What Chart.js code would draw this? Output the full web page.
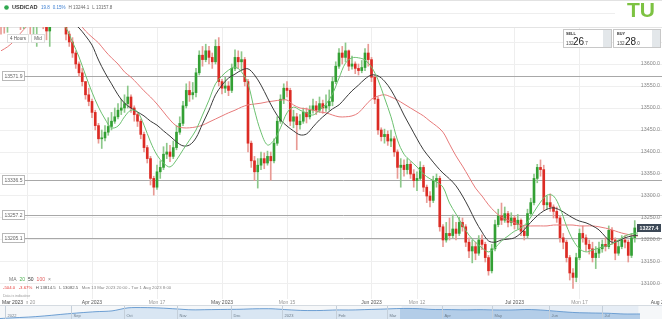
<!DOCTYPE html>
<html>
<head>
<meta charset="utf-8">
<script src="https://cdn.jsdelivr.net/npm/chart.js@4.4.0/dist/chart.umd.min.js"></script>
<style>
  html, body { margin: 0; padding: 0; background: #fff; }
  #wrap { position: relative; width: 662px; height: 319px; overflow: hidden; }
  #main { position: absolute; left: 0; top: 0; }
  #nav { position: absolute; left: 0; top: 305px; }
</style>
</head>
<body>
<div id="wrap">
  <canvas id="main" width="662" height="319"></canvas>
  <canvas id="nav" width="662" height="14"></canvas>
</div>
<script>
const FONT = '"Liberation Sans", Arial, sans-serif';

// 12h candle slots, counted in trading days from Mon 13 Mar 2023
const candleStart = 1;
const candleStep = 0.5;
const opens = [
  13731,13705,13690,13712,13730,13745,13720,13695,13710,13700,
  13685,13690,13700,13720,13705,13675,13690,13712,13740,13760,
  13725,13668,13650,13625,13600,13580,13560,13530,13515,13490,
  13460,13430,13432,13445,13458,13470,13480,13495,13500,13510,
  13525,13500,13485,13470,13440,13410,13385,13340,13320,13355,
  13365,13395,13400,13390,13410,13445,13465,13505,13540,13530,
  13535,13580,13620,13610,13630,13615,13605,13640,13560,13545,
  13550,13540,13590,13615,13605,13610,13560,13420,13380,13355,
  13370,13385,13375,13390,13380,13420,13470,13520,13545,13540,
  13470,13480,13462,13470,13490,13480,13495,13505,13495,13510,
  13500,13505,13515,13560,13595,13625,13615,13630,13595,13600,
  13590,13585,13592,13625,13610,13570,13520,13450,13435,13440,
  13425,13430,13400,13365,13370,13360,13372,13350,13335,13340,
  13365,13320,13300,13290,13335,13340,13230,13200,13215,13210,
  13225,13215,13240,13230,13195,13175,13185,13170,13200,13190,
  13160,13130,13180,13235,13255,13245,13260,13240,13250,13235,
  13245,13220,13210,13260,13285,13340,13365,13360,13280,13285,
  13275,13265,13250,13205,13195,13160,13125,13115,13160,13215,
  13205,13190,13180,13160,13170,13180,13190,13185,13222,13200,
  13170,13185,13200,13195,13165,13205
];
const highs = [
  13740,13725,13735,13760,13790,13760,13730,13740,13725,13712,
  13718,13720,13745,13740,13715,13720,13735,13780,13814.5,13770,
  13730,13675,13660,13630,13605,13590,13560,13545,13520,13495,
  13465,13450,13460,13478,13490,13500,13510,13520,13530,13550,
  13530,13505,13490,13475,13445,13415,13390,13345,13370,13380,
  13412,13420,13415,13425,13460,13480,13515,13555,13560,13558,
  13590,13630,13640,13645,13640,13625,13655,13660,13565,13570,
  13560,13600,13632,13630,13628,13615,13565,13425,13390,13385,
  13400,13398,13402,13400,13430,13480,13530,13555,13560,13545,
  13495,13488,13485,13500,13500,13505,13520,13515,13525,13518,
  13530,13541,13570,13605,13635,13640,13648,13632,13618,13605,
  13600,13608,13635,13645,13615,13575,13525,13455,13452,13448,
  13450,13435,13405,13385,13382,13385,13378,13360,13355,13378,
  13370,13325,13310,13345,13350,13345,13235,13240,13250,13257,
  13240,13252,13250,13235,13205,13200,13195,13210,13212,13195,
  13165,13190,13245,13270,13284,13275,13265,13262,13255,13258,
  13248,13230,13270,13295,13350,13372,13382,13370,13300,13305,
  13280,13275,13255,13215,13200,13165,13135,13170,13225,13232,
  13212,13200,13195,13185,13195,13200,13205,13232,13228,13205,
  13200,13210,13210,13200,13215,13244.1
];
const lows = [
  13668,13670,13672,13705,13720,13700,13678,13680,13688,13668,
  13660,13640,13690,13680,13655,13640,13688,13705,13730,13690,
  13655,13640,13615,13590,13572,13550,13520,13505,13478,13450,
  13420,13408,13425,13438,13450,13465,13475,13485,13490,13500,
  13490,13470,13458,13430,13400,13375,13325,13302,13315,13340,
  13360,13385,13378,13385,13405,13440,13460,13500,13515,13520,
  13525,13575,13595,13605,13600,13590,13600,13550,13532,13535,
  13528,13535,13585,13590,13585,13550,13400,13365,13335,13318,
  13360,13362,13370,13336,13375,13415,13465,13510,13525,13460,
  13455,13405,13452,13465,13466,13475,13488,13485,13490,13488,
  13492,13495,13505,13555,13590,13600,13605,13585,13588,13578,
  13575,13580,13585,13595,13560,13510,13440,13425,13420,13415,
  13412,13390,13340,13320,13345,13350,13340,13320,13312,13335,
  13310,13285,13275,13285,13320,13220,13185,13195,13200,13205,
  13200,13210,13220,13185,13160,13148,13155,13165,13178,13150,
  13120,13125,13175,13230,13235,13240,13230,13232,13225,13225,
  13210,13200,13205,13255,13280,13330,13345,13268,13270,13265,
  13250,13240,13195,13180,13150,13109,13090,13105,13155,13195,
  13175,13168,13150,13135,13160,13172,13175,13180,13190,13155,
  13165,13180,13182,13150,13160,13195
];
const closes = [
  13705,13690,13712,13730,13745,13720,13695,13710,13700,13685,
  13690,13700,13720,13705,13675,13690,13712,13740,13760,13725,
  13668,13650,13625,13600,13580,13560,13530,13515,13490,13460,
  13430,13432,13445,13458,13470,13480,13495,13500,13510,13525,
  13500,13485,13470,13440,13410,13385,13340,13320,13355,13365,
  13395,13400,13390,13410,13445,13465,13505,13540,13530,13535,
  13580,13620,13610,13630,13615,13605,13640,13560,13545,13550,
  13540,13590,13615,13605,13610,13560,13420,13380,13355,13370,
  13385,13375,13390,13380,13420,13470,13520,13545,13540,13470,
  13480,13462,13470,13490,13480,13495,13505,13495,13510,13500,
  13505,13515,13560,13595,13625,13615,13630,13595,13600,13590,
  13585,13592,13625,13610,13570,13520,13450,13435,13440,13425,
  13430,13400,13365,13370,13360,13372,13350,13335,13340,13365,
  13320,13300,13290,13335,13340,13230,13200,13215,13210,13225,
  13215,13240,13230,13195,13175,13185,13170,13200,13190,13160,
  13130,13180,13235,13255,13245,13260,13240,13250,13235,13245,
  13220,13210,13260,13285,13340,13365,13360,13280,13285,13275,
  13265,13250,13205,13195,13160,13125,13115,13160,13215,13205,
  13190,13180,13160,13170,13180,13190,13185,13222,13200,13170,
  13185,13200,13195,13165,13205,13227.4
];

// moving averages, one value per trading day from day 1
const maStart = 1;
const ma20 = [
  13705,13708,13712,13715,13712,13708,13705,13702,13700,13698,
  13682,13650,13616,13575,13536,13502,13475,13455,13459,13480,
  13495,13491,13461,13423,13393,13375,13366,13382,13405,13427,
  13450,13484,13518,13555,13573,13586,13593,13582,13555,13495,
  13445,13416,13427,13455,13489,13502,13495,13489,13484,13495,
  13509,13532,13568,13602,13614,13614,13609,13593,13564,13523,
  13480,13427,13395,13380,13366,13350,13339,13332,13320,13284,
  13259,13234,13211,13195,13182,13173,13182,13198,13209,13220,
  13227,13241,13264,13286,13302,13300,13273,13232,13200,13180,
  13173,13177,13182,13186,13191,13200,13209,13214,13216
];
const ma50 = [
  13690,13695,13700,13705,13710,13713,13716,13718,13718,13716,
  13712,13695,13682,13664,13643,13609,13580,13555,13530,13511,
  13500,13491,13482,13470,13461,13448,13436,13423,13414,13416,
  13432,13464,13495,13530,13552,13568,13577,13586,13589,13575,
  13552,13523,13495,13473,13459,13448,13439,13441,13457,13473,
  13486,13498,13507,13523,13539,13552,13566,13575,13573,13561,
  13541,13514,13484,13457,13430,13405,13386,13368,13352,13339,
  13323,13300,13273,13243,13218,13198,13195,13200,13202,13205,
  13216,13232,13248,13261,13270,13273,13268,13259,13250,13243,
  13239,13232,13223,13207,13195,13198,13205,13209,13211
];
const ma100 = [
  13630,13639,13652,13670,13686,13698,13706,13712,13716,13716,
  13712,13703,13692,13675,13661,13648,13630,13614,13600,13582,
  13570,13555,13539,13525,13509,13491,13473,13459,13455,13455,
  13457,13461,13468,13475,13482,13489,13495,13502,13507,13509,
  13511,13514,13516,13518,13518,13507,13500,13498,13495,13491,
  13489,13484,13480,13480,13482,13489,13505,13520,13527,13530,
  13525,13518,13509,13500,13491,13482,13470,13459,13445,13418,
  13391,13368,13343,13318,13300,13280,13264,13252,13245,13239,
  13234,13232,13232,13232,13232,13234,13234,13234,13234,13232,
  13232,13232,13230,13227,13223,13218,13214,13211,13209
];

const levels = [13571.9, 13336.5, 13257.2, 13205.1];
const lastPrice = 13227.4;

const xTickDays = [5, 15, 25, 35, 45, 58, 65, 80, 90, 102.6];
const xTickLabels = ['Mon 20', 'Apr 2023', 'Mon 17', 'May 2023', 'Mon 15', 'Jun 2023', 'Mon 12', 'Jul 2023', 'Mon 17', 'Aug 2023'];
const xTickMonth = [false, true, false, true, false, true, false, true, false, true];

// navigator strip: price every ~10 days since late Jul 2022
const navValues = [
  12910,12975,13035,13130,13245,13345,13430,13490,13720,13740,
  13710,13640,13570,13585,13600,13615,13650,13650,13575,13520,
  13520,13560,13560,13595,13630,13670,13665,13600,13590,13570,
  13585,13560,13560,13595,13540,13440,13360,13330,13310,13255,
  13255
];
const navMonthLabels = ['2022', 'Sep', 'Oct', 'Nov', 'Dec', '2023', 'Feb', 'Mar', 'Apr', 'May', 'Jun', 'Jul'];
const navMonthAt = [0.31, 4.44, 7.75, 11.06, 14.44, 17.63, 21.0, 24.19, 27.63, 30.75, 34.31, 37.63];
const navSelection = [25.1, 39.9];

const UP = '#33a034', DOWN = '#dc2b24';
const UP_WICK = '#8cc88a', DOWN_WICK = '#e89a94';

const slot = i => candleStart + i * candleStep;
const isUp = closes.map((c, i) => c >= opens[i]);

function txt(ctx, s, x, y, size, color, weight, align, base) {
  ctx.font = (weight || 'normal') + ' ' + size + 'px ' + FONT;
  ctx.fillStyle = color;
  ctx.textAlign = align || 'left';
  ctx.textBaseline = base || 'middle';
  ctx.fillText(s, x, y);
  return ctx.measureText(s).width;
}
// a row of text pieces placed one after another
function row(ctx, pieces, x, y, size, gap) {
  pieces.forEach(([s, color, weight]) => {
    x += txt(ctx, s, x, y, size, color, weight) + gap;
  });
}
function box(ctx, x, y, w, h, fill, stroke) {
  ctx.fillStyle = fill;
  ctx.fillRect(x, y, w, h);
  if (stroke) { ctx.strokeStyle = stroke; ctx.lineWidth = 1; ctx.strokeRect(x, y, w, h); }
}

const overlay = {
  id: 'overlay',
  beforeDatasetsDraw(chart) {
    const { ctx, chartArea: a, scales: { y } } = chart;
    ctx.save();
    ctx.fillStyle = '#e4e4e4';
    ctx.fillRect(0, a.top, 662, 1);
    ctx.strokeStyle = '#a8a8a8';
    ctx.lineWidth = 1;
    levels.forEach(v => {
      const py = Math.round(y.getPixelForValue(v)) + 0.5;
      ctx.beginPath(); ctx.moveTo(25, py); ctx.lineTo(a.right, py); ctx.stroke();
    });
    ctx.restore();
  },
  afterDraw(chart) {
    const { ctx, scales: { y } } = chart;
    ctx.save();

    // header
    ctx.fillStyle = '#e2e2e2'; ctx.fillRect(0, 0, 662, 1);
    ctx.fillStyle = '#eeeeee'; ctx.fillRect(0, 13, 615, 1);
    ctx.beginPath(); ctx.arc(6.5, 7.5, 2.3, 0, Math.PI * 2); ctx.fillStyle = '#2fa84f'; ctx.fill();
    txt(ctx, 'USD/CAD', 12, 7.5, 5.6, '#333', 'bold');
    row(ctx, [['19.8', '#3d7fd1'], ['0.15%', '#3d7fd1'], ['H 13244.1', '#666'], ['L 13157.8', '#666']], 41, 7.5, 4.5, 3);
    txt(ctx, 'TU', 641, 11.5, 21, '#7dc242', 'bold', 'center');

    // y tick labels
    y.ticks.forEach(t => {
      txt(ctx, t.value.toFixed(1), 660, y.getPixelForValue(t.value), 5.3, '#8a8a8a', 'normal', 'right');
    });

    // level labels
    levels.forEach(v => {
      const py = Math.round(y.getPixelForValue(v));
      box(ctx, 2.5, py - 4.5, 22, 9, '#fff', '#b8b8b8');
      txt(ctx, v.toFixed(1), 13.5, py + 0.5, 5, '#666', 'normal', 'center');
    });

    // last price
    const lp = Math.round(y.getPixelForValue(lastPrice));
    box(ctx, 637, lp - 4, 24, 8, '#3c4856');
    txt(ctx, lastPrice.toFixed(1), 649, lp + 0.5, 5.2, '#fff', 'bold', 'center');

    // timeframe buttons
    box(ctx, 7.5, 34.5, 21, 8, '#fff', '#dddddd');
    txt(ctx, '4 Hours', 18, 38.7, 4.6, '#555', 'normal', 'center');
    box(ctx, 31.5, 34.5, 13, 8, '#fff', '#dddddd');
    txt(ctx, 'Mid', 38, 38.7, 4.6, '#555', 'normal', 'center');

    // sell / buy
    box(ctx, 563.5, 29.5, 48, 18, '#fff', '#c8c8c8');
    ctx.fillStyle = '#e3e7ea'; ctx.fillRect(603, 30, 8, 17);
    txt(ctx, 'SELL', 566, 33.5, 3.8, '#333', 'bold');
    txt(ctx, '132', 566, 44.5, 4.6, '#444', 'normal', 'left', 'alphabetic');
    txt(ctx, '26', 573, 44.5, 10, '#222', 'normal', 'left', 'alphabetic');
    txt(ctx, '.7', 584, 44.5, 4.6, '#444', 'normal', 'left', 'alphabetic');
    box(ctx, 613.5, 29.5, 47, 18, '#fff', '#c8c8c8');
    ctx.fillStyle = '#e3e7ea'; ctx.fillRect(652, 30, 8, 17);
    txt(ctx, 'BUY', 617, 33.5, 3.8, '#333', 'bold');
    txt(ctx, '132', 617, 44.5, 4.6, '#444', 'normal', 'left', 'alphabetic');
    txt(ctx, '28', 625, 44.5, 10, '#222', 'normal', 'left', 'alphabetic');
    txt(ctx, '.0', 636, 44.5, 4.6, '#444', 'normal', 'left', 'alphabetic');

    // MA legend + range info
    row(ctx, [['MA', '#777'], ['20', '#4caf50'], ['50', '#333'], ['100', '#e05a5a'], ['\u00d7', '#888']], 9, 280, 5, 3);
    row(ctx, [['-504.0', '#e53935'], ['-3.67%', '#e53935'], ['H 13814.5', '#555'], ['L 13082.5', '#555'],
              ['Mon 13 Mar 2023 20:00 - Tue 1 Aug 2023 8:00', '#888']], 3, 288, 4.3, 3.5);
    txt(ctx, 'Data is indicative', 3, 295.5, 3.6, '#999');

    // sticky month label
    box(ctx, 0, 299, 26, 7, '#fff');
    txt(ctx, 'Mar 2023', 2, 302.5, 5, '#444');
    ctx.restore();
  }
};

new Chart(document.getElementById('main'), {
  type: 'bar',
  data: {
    datasets: [
      {
        type: 'line', label: 'MA20', order: 0,
        data: ma20.map((v, i) => ({ x: maStart + i, y: v })),
        borderColor: '#6cc070', borderWidth: 1, pointRadius: 0, tension: 0.35
      },
      {
        type: 'line', label: 'MA50', order: 0,
        data: ma50.map((v, i) => ({ x: maStart + i, y: v })),
        borderColor: '#3a3a3a', borderWidth: 1, pointRadius: 0, tension: 0.35
      },
      {
        type: 'line', label: 'MA100', order: 0,
        data: ma100.map((v, i) => ({ x: maStart + i, y: v })),
        borderColor: '#e77a7a', borderWidth: 1, pointRadius: 0, tension: 0.35
      },
      {
        label: 'body', order: 1, grouped: false, barThickness: 2, minBarLength: 1,
        data: opens.map((o, i) => ({ x: slot(i), y: [o, closes[i]] })),
        backgroundColor: isUp.map(u => u ? UP : DOWN), borderWidth: 0
      },
      {
        label: 'wick', order: 2, grouped: false, barThickness: 1,
        data: highs.map((h, i) => ({ x: slot(i), y: [lows[i], h] })),
        backgroundColor: isUp.map(u => u ? UP_WICK : DOWN_WICK), borderWidth: 0
      }
    ]
  },
  options: {
    responsive: false,
    animation: false,
    layout: { padding: { top: 27, bottom: 12, left: 0, right: 0 } },
    plugins: { legend: { display: false }, tooltip: { enabled: false } },
    scales: {
      x: {
        type: 'linear', min: 0.846, max: 102.692, offset: false,
        grid: { color: ctx => ctx.index === 9 ? 'rgba(0,0,0,0)' : '#eeeeee', drawTicks: false, offset: false },
        border: { display: false },
        afterBuildTicks: s => { s.ticks = xTickDays.map(v => ({ value: v })); },
        afterFit: s => { s.height = 8; s.paddingLeft = 0; s.paddingRight = 0; },
        ticks: {
          autoSkip: false, maxRotation: 0, padding: 1,
          font: { size: 5, family: FONT },
          color: ctx => xTickMonth[ctx.index] ? '#555' : '#999',
          callback: (v, i) => xTickLabels[i]
        }
      },
      y: {
        position: 'right', min: 13065.9, max: 13684.1,
        grid: { color: '#efefef', drawTicks: false },
        border: { display: false },
        ticks: { display: false, stepSize: 50, includeBounds: false },
        afterFit: s => { s.width = 0; }
      }
    }
  },
  plugins: [overlay]
});

const navDecor = {
  id: 'navDecor',
  beforeDatasetsDraw(chart) {
    const { ctx, scales: { x } } = chart;
    const x0 = x.getPixelForValue(navSelection[0]), x1 = x.getPixelForValue(navSelection[1]);
    ctx.save();
    ctx.fillStyle = '#f5f7f9'; ctx.fillRect(0, 0, 662, 14);
    ctx.fillStyle = '#e6edf5'; ctx.fillRect(x0, 0, x1 - x0, 14);
    ctx.fillStyle = '#d5dbe1'; ctx.fillRect(0, 0, 662, 1);
    ctx.restore();
  },
  afterDatasetsDraw(chart) {
    const { ctx, scales: { x } } = chart;
    ctx.save();
    navMonthAt.forEach((m, i) => {
      const px = Math.round(x.getPixelForValue(m)) + 0.5;
      ctx.strokeStyle = '#c4cfda'; ctx.lineWidth = 1;
      ctx.beginPath(); ctx.moveTo(px, 1); ctx.lineTo(px, 14); ctx.stroke();
      txt(ctx, navMonthLabels[i], px + 2, 11, 4, '#6d7c8a');
    });
    ctx.restore();
  }
};

new Chart(document.getElementById('nav'), {
  type: 'line',
  data: {
    datasets: [{
      data: navValues.map((v, i) => ({ x: i, y: v })),
      borderColor: '#6d9fd3', borderWidth: 1, pointRadius: 0, tension: 0.3,
      fill: 'start', backgroundColor: '#d9e6f3',
      segment: {
        backgroundColor: c => (c.p0.parsed.x >= 25 && c.p0.parsed.x < 40) ? '#b3cde8' : '#d9e6f3'
      }
    }]
  },
  options: {
    responsive: false,
    animation: false,
    layout: { padding: 0 },
    plugins: { legend: { display: false }, tooltip: { enabled: false } },
    scales: {
      x: { type: 'linear', display: false, min: 0, max: 41.375 },
      y: { display: false, min: 12874, max: 13938 }
    }
  },
  plugins: [navDecor]
});
</script>
</body>
</html>
